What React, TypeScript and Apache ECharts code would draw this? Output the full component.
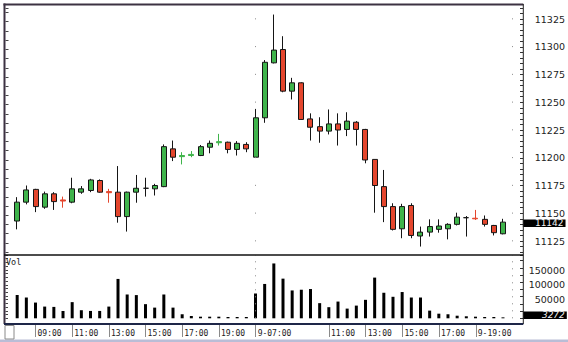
import React, { useEffect, useRef } from 'react';
import * as echarts from 'echarts';

// ---- data (30-minute bars, two sessions) ----
const categories = [
  '08:00','08:30','09:00','09:30','10:00','10:30','11:00','11:30','12:00','12:30','13:00','13:30','14:00',
  '14:30','15:00','15:30','16:00','16:30','17:00','17:30','18:00','18:30','19:00','19:30','20:00','20:30',
  '07:00','07:30','08:00','08:30','09:00','09:30','10:00','10:30','11:00','11:30','12:00','12:30','13:00',
  '13:30','14:00','14:30','15:00','15:30','16:00','16:30','17:00','17:30','18:00','18:30','19:00','19:30',
  '20:00','20:30','21:00','21:30',
];
const opens = [
  11143, 11160, 11171.5, 11155.5, 11167.5, 11162, 11160, 11169, 11170.5, 11179.5, 11169.5, 11169, 11147,
  11169, 11172.5, 11172, 11174, 11208, 11201, 11202, 11202, 11209.5, 11213.5, 11214, 11207.5, 11212,
  11200.5, 11236, 11285.5, 11297.5, 11260, 11267.5, 11235, 11228, 11224, 11230.5, 11225.5, 11232, 11225.5,
  11198.5, 11174, 11156, 11136, 11157, 11129.5, 11133, 11135.5, 11136, 11140, 11146, 11145.5, 11144.5,
  11139, 11131.5,
];
const closes = [
  11160, 11171, 11156, 11167.5, 11160.5, 11161, 11172, 11172, 11180, 11169, 11168.5, 11147, 11169,
  11172.5, 11172.5, 11175, 11210, 11200.5, 11202, 11203, 11210, 11213, 11214.5, 11207.5, 11213, 11208,
  11236, 11286, 11297, 11260, 11267.5, 11234.5, 11227.5, 11224, 11230.5, 11225, 11233, 11225.5, 11198,
  11175, 11156, 11135.5, 11156, 11130, 11133, 11138, 11138.5, 11140, 11146.5, 11146, 11145, 11140,
  11132.5, 11142,
];
const lows = [
  11135.5, 11158, 11151, 11154, 11153, 11155, 11159, 11167.5, 11169, 11168.5, 11159.5, 11141.5, 11133.5,
  11159.5, 11165, 11166, 11173.5, 11197, 11194, 11200.5, 11201.5, 11204, 11211, 11204, 11202, 11205,
  11200, 11231.5, 11285, 11259, 11252.5, 11234, 11215.5, 11213.5, 11221, 11211, 11219.5, 11211, 11195,
  11150.5, 11142, 11134.5, 11127.5, 11127.5, 11120, 11129, 11132.5, 11126.5, 11139, 11129, 11144, 11138,
  11130, 11131,
];
const highs = [
  11164.5, 11175, 11172, 11169.5, 11169, 11165, 11182, 11174.5, 11181, 11180.5, 11172, 11192.5, 11169.5,
  11184.5, 11182, 11176.5, 11212, 11215.5, 11205, 11206, 11211.5, 11215.5, 11221.5, 11214.5, 11215, 11214,
  11244, 11288, 11329, 11309.5, 11272, 11268, 11240, 11236.5, 11243.5, 11240, 11241, 11233, 11226,
  11198.5, 11189, 11159, 11158.5, 11159, 11138, 11144.5, 11144.5, 11141, 11150.5, 11147.5, 11153, 11148,
  11139.5, 11145,
];
const volumes = [
  80400, 72000, 54500, 40600, 39500, 25500, 56000, 28000, 25500, 25500, 40600, 136400, 82500,
  80400, 49000, 37000, 82500, 37000, 14000, 8000, 5600, 5600, 5600, 4500, 4500, 4500,
  86000, 119000, 190000, 137400, 96500, 99000, 101400, 52500, 38500, 58000, 33600, 44000, 64000,
  141000, 88500, 74500, 91000, 72000, 72000, 26600, 16000, 14000, 9000, 7000, 5600, 4500,
  4500, 3272,
];
const tickIndex = [2, 6, 10, 14, 18, 22, 26, 34, 38, 42, 46, 50];
const tickLabels = ['09:00', '11:00', '13:00', '15:00', '17:00', '19:00', '9-07:00', '11:00', '13:00', '15:00', '17:00', '9-19:00'];
const priceLabels = [11125, 11150, 11175, 11200, 11225, 11250, 11275, 11300, 11325];
const volumeLabels = [50000, 100000, 150000];
const sessionBreaks = [26, 54];

// ---- styling / layout ----
const UP = '#3fb44b';
const DOWN = '#e4462d';
const EDGE = '#151515';
const GRID_LEFT = 12.6;
const GRID_W = 513.6;
const AXIS_X = 523.3;
const RIGHT_OFF = AXIS_X - (GRID_LEFT + GRID_W);
const LEFT_OFF = GRID_LEFT - 5.5;
const LABEL_FONT = 'DejaVu Sans';
const CLEAR = 'rgba(0,0,0,0)';

export default function App() {
  const ref = useRef<HTMLDivElement>(null);

  useEffect(() => {
    if (!ref.current) return;
    const chart = echarts.init(ref.current, null, { renderer: 'svg', width: 568, height: 342 });
    const tickSet = new Set(tickIndex);
    const tickMap: Record<number, string> = {};
    tickIndex.forEach((i, k) => (tickMap[i] = tickLabels[k]));

    const candleData = opens.map((o, i) => {
      const c = closes[i];
      const diff = Math.abs(c - o);
      const item: any = { value: [o, c, lows[i], highs[i]] };
      if (diff > 0 && diff <= 1) {
        const col = c > o ? UP : DOWN;
        item.itemStyle = { borderColor: col, borderColor0: col, color: col, color0: col };
      }
      return item;
    });

    const hiddenX = (gridIndex: number) => ({
      type: 'category' as const,
      gridIndex,
      data: categories,
      boundaryGap: true,
      axisLine: { show: false },
      axisTick: { show: false },
      axisLabel: { show: false },
      splitLine: { show: false },
    });

    const lastBox = (padLeft: number, italic: boolean, lineHeight: number, dy: number) => ({
      show: true,
      position: 'end',
      distance: -3,
      offset: [0, dy],
      formatter: '{c}',
      backgroundColor: '#000',
      color: '#f2f2f2',
      padding: [0, 2, 0, padLeft],
      lineHeight,
      fontFamily: LABEL_FONT,
      fontStyle: italic ? 'italic' : 'normal',
      fontSize: 9,
    });

    const option: any = {
      animation: false,
      backgroundColor: '#ffffff',
      grid: [
        { left: GRID_LEFT, top: 7.9, width: GRID_W, height: 244.2 },
        { left: GRID_LEFT, top: 255, width: GRID_W, height: 63.3 },
        { left: GRID_LEFT, top: 310, width: GRID_W, height: 14 },
      ],
      xAxis: [
        hiddenX(0),
        hiddenX(1),
        {
          type: 'category',
          gridIndex: 2,
          position: 'bottom',
          data: categories,
          boundaryGap: true,
          axisLine: { show: false },
          axisTick: {
            show: true,
            length: 13,
            alignWithLabel: true,
            interval: (i: number) => tickSet.has(i),
            lineStyle: { color: '#8a8a8a', width: 1 },
          },
          axisLabel: {
            show: true,
            margin: 9,
            interval: (i: number) => tickSet.has(i),
            formatter: (_v: string, i: number) => tickMap[i] ?? '',
            align: 'left',
            verticalAlign: 'middle',
            padding: [0, 0, 0, 2],
            fontFamily: 'DejaVu Sans Mono',
            fontSize: 8,
            color: '#222',
          },
          splitLine: { show: false },
        },
      ],
      yAxis: [
        {
          type: 'value',
          gridIndex: 0,
          position: 'right',
          offset: RIGHT_OFF,
          min: 11115,
          max: 11335,
          interval: 5,
          axisLine: { show: false },
          axisTick: { show: true, inside: true, length: 3, lineStyle: { color: '#333' } },
          axisLabel: {
            formatter: (v: number) => (priceLabels.includes(v) ? String(v) : ''),
            margin: 42,
            align: 'right',
            lineHeight: 7,
            fontFamily: LABEL_FONT,
            fontSize: 9.5,
            color: '#222',
          },
          splitLine: { show: false },
        },
        {
          type: 'value',
          gridIndex: 0,
          position: 'left',
          offset: LEFT_OFF,
          min: 0,
          max: 26.5,
          interval: 1,
          axisLine: { show: false },
          axisTick: { show: true, inside: true, length: 3, lineStyle: { color: '#444' } },
          axisLabel: { show: false },
          splitLine: { show: false },
        },
        {
          type: 'value',
          gridIndex: 1,
          position: 'right',
          offset: RIGHT_OFF,
          min: 0,
          max: 219300,
          interval: 25000,
          axisLine: { show: false },
          axisTick: { show: true, inside: true, length: 3, lineStyle: { color: '#333' } },
          axisLabel: {
            formatter: (v: number) => (volumeLabels.includes(v) ? String(v) : ''),
            margin: 42,
            align: 'right',
            verticalAlign: 'bottom',
            lineHeight: 9,
            fontFamily: LABEL_FONT,
            fontSize: 9.5,
            color: '#222',
          },
          splitLine: { show: false },
        },
        {
          type: 'value',
          gridIndex: 1,
          position: 'left',
          offset: LEFT_OFF,
          min: 0,
          max: 17,
          interval: 1,
          axisLine: { show: false },
          axisTick: { show: true, inside: true, length: 2.5, lineStyle: { color: '#444' } },
          axisLabel: { show: false },
          splitLine: { show: false },
        },
        { type: 'value', gridIndex: 2, show: false, min: 0, max: 1 },
      ],
      series: [
        {
          type: 'candlestick',
          xAxisIndex: 0,
          yAxisIndex: 0,
          barWidth: 5.5,
          data: candleData,
          itemStyle: {
            color: UP,
            color0: DOWN,
            borderColor: EDGE,
            borderColor0: EDGE,
            borderColorDoji: EDGE,
            borderWidth: 1,
          },
          markLine: {
            silent: true,
            symbol: 'none',
            animation: false,
            lineStyle: { type: [1, 26.75], dashOffset: 16.65, color: '#8a8a8a', width: 1 },
            label: { show: false },
            data: [
              ...sessionBreaks.map((x) => ({ xAxis: x, label: { show: false } })),
              {
                yAxis: closes[closes.length - 1],
                lineStyle: { color: CLEAR, width: 1, type: 'solid' },
                label: lastBox(12, false, 7.5, 1),
              },
            ],
          },
        },
        {
          type: 'bar',
          xAxisIndex: 1,
          yAxisIndex: 2,
          barWidth: 3,
          data: volumes,
          itemStyle: { color: '#000' },
          markLine: {
            silent: true,
            symbol: 'none',
            animation: false,
            lineStyle: { type: [1, 6], color: '#8a8a8a', width: 1 },
            label: { show: false },
            data: [
              ...sessionBreaks.map((x) => ({ xAxis: x, label: { show: false } })),
              {
                yAxis: volumes[volumes.length - 1],
                lineStyle: { color: CLEAR, width: 1, type: 'solid' },
                label: lastBox(19, true, 7.5, -2),
              },
            ],
          },
        },
      ],
      graphic: [
        { type: 'rect', shape: { x: 0, y: 339.5, width: 568, height: 3 }, style: { fill: '#b9bdd6' }, z: 10 },
        { type: 'line', shape: { x1: 3.5, y1: 4.5, x2: AXIS_X, y2: 4.5 }, style: { stroke: '#3c3242', lineWidth: 2 }, z: 10 },
        { type: 'line', shape: { x1: 4.5, y1: 3.5, x2: 4.5, y2: 324 }, style: { stroke: '#3c3242', lineWidth: 2 }, z: 10 },
        { type: 'line', shape: { x1: 4, y1: 255, x2: AXIS_X, y2: 255 }, style: { stroke: '#111', lineWidth: 1.5 }, z: 10 },
        { type: 'line', shape: { x1: AXIS_X, y1: 4, x2: AXIS_X, y2: 324 }, style: { stroke: '#222', lineWidth: 1 }, z: 10 },
        { type: 'line', shape: { x1: 4, y1: 324, x2: AXIS_X, y2: 324 }, style: { stroke: '#1e2648', lineWidth: 2 }, z: 10 },
        { type: 'rect', shape: { x: 5, y: 325.5, width: 9, height: 13.5 }, style: { fill: '#fff', stroke: '#8a8a8a', lineWidth: 1 }, z: 10 },
        {
          type: 'text',
          x: 6,
          y: 257.5,
          style: { text: 'Vol', fill: '#222', font: '8.5px "DejaVu Sans Mono"', textVerticalAlign: 'top' },
          z: 10,
        },
      ],
    };

    chart.setOption(option);
    return () => chart.dispose();
  }, []);

  return (
    <div style={{ position: 'fixed', left: 0, top: 0, width: 568, height: 342, background: '#fff' }}>
      <div ref={ref} style={{ width: 568, height: 342 }} />
    </div>
  );
}
